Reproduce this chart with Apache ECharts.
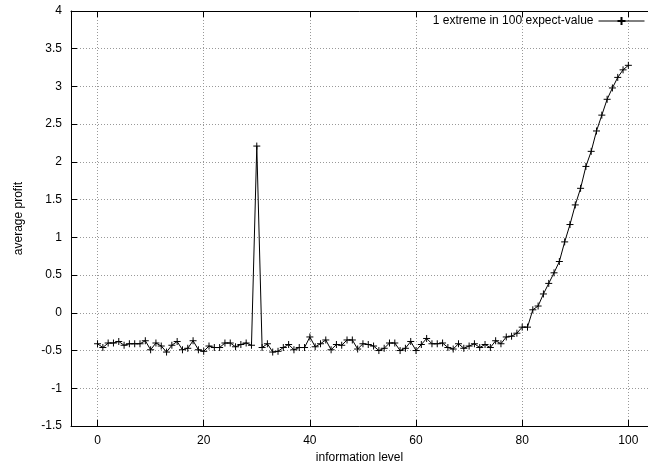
<!DOCTYPE html>
<html>
<head>
<meta charset="utf-8">
<script src="https://cdn.jsdelivr.net/npm/echarts@6/dist/echarts.min.js"></script>
<style>
  html, body { margin: 0; padding: 0; background: #fff; }
  #main { width: 648px; height: 471px; }
</style>
</head>
<body>
<div id="main"></div>
<script>
var chart = echarts.init(document.getElementById("main"))

// information level (x) and average profit (y)
var level = [0, 1, 2, 3, 4, 5, 6, 7, 8, 9, 10, 11, 12, 13, 14, 15, 16, 17, 18, 19,
  20, 21, 22, 23, 24, 25, 26, 27, 28, 29, 30, 31, 32, 33, 34, 35, 36, 37, 38, 39,
  40, 41, 42, 43, 44, 45, 46, 47, 48, 49, 50, 51, 52, 53, 54, 55, 56, 57, 58, 59,
  60, 61, 62, 63, 64, 65, 66, 67, 68, 69, 70, 71, 72, 73, 74, 75, 76, 77, 78, 79,
  80, 81, 82, 83, 84, 85, 86, 87, 88, 89, 90, 91, 92, 93, 94, 95, 96, 97, 98, 99, 100]
var profit = [-0.41, -0.46, -0.40, -0.40, -0.38, -0.43, -0.41, -0.41, -0.41, -0.37,
  -0.49, -0.40, -0.44, -0.52, -0.43, -0.38, -0.49, -0.47, -0.37, -0.49,
  -0.51, -0.44, -0.46, -0.46, -0.40, -0.40, -0.45, -0.42, -0.40, -0.43,
  2.21, -0.46, -0.41, -0.52, -0.51, -0.46, -0.42, -0.49, -0.46, -0.46,
  -0.32, -0.45, -0.41, -0.36, -0.49, -0.42, -0.43, -0.36, -0.36, -0.48,
  -0.41, -0.42, -0.44, -0.50, -0.47, -0.40, -0.40, -0.50, -0.47, -0.38,
  -0.50, -0.42, -0.34, -0.41, -0.41, -0.40, -0.46, -0.48, -0.41, -0.47,
  -0.44, -0.41, -0.46, -0.42, -0.46, -0.37, -0.41, -0.32, -0.31, -0.27,
  -0.19, -0.19, 0.04, 0.09, 0.25, 0.39, 0.53, 0.68, 0.94, 1.17,
  1.43, 1.65, 1.94, 2.14, 2.41, 2.62, 2.83, 2.98, 3.12, 3.22, 3.28]
var xTicks = [0, 20, 40, 60, 80, 100]
var seriesName = "1 extreme in 100 expect-value"

var points = []
for (var i = 0; i < level.length; i++) {
  points.push([level[i], profit[i]])
}

var font = "Liberation Sans, Arial, Helvetica, sans-serif"
var plus = "path://M0,5L10,5M5,0L5,10"

option = {
  animation: false,
  backgroundColor: "#fff",
  textStyle: { fontFamily: font, color: "#000" },
  grid: { left: 71, top: 11, bottom: 45, right: 0, containLabel: false },
  legend: {
    right: 3,
    top: 15,
    padding: 0,
    align: "right",
    itemWidth: 46,
    itemHeight: 10,
    itemGap: 0,
    lineStyle: { width: 1 },
    textStyle: { fontFamily: font, fontSize: 12, color: "#000", padding: [0, 0, 0, 0] },
    data: [seriesName]
  },
  xAxis: [
    {
      type: "value",
      min: -5,
      max: 103.7,
      name: "information level",
      nameLocation: "middle",
      nameGap: 26,
      nameTextStyle: { fontFamily: font, fontSize: 12, color: "#000" },
      axisLine: { show: true, onZero: false, lineStyle: { color: "#000", width: 1 } },
      axisTick: { show: true, inside: true, length: 6, customValues: xTicks, lineStyle: { color: "#000" } },
      axisLabel: { customValues: xTicks, margin: 9, fontFamily: font, fontSize: 12, color: "#000" },
      splitLine: { show: true, lineStyle: { color: "#999", type: [1, 2], width: 1 } }
    },
    {
      type: "value",
      position: "top",
      min: -5,
      max: 103.7,
      axisLine: { show: true, onZero: false, lineStyle: { color: "#000", width: 1 } },
      axisTick: { show: true, inside: true, length: 6, customValues: xTicks, lineStyle: { color: "#000" } },
      axisLabel: { show: false },
      splitLine: { show: false }
    }
  ],
  yAxis: {
    type: "value",
    min: -1.5,
    max: 4,
    interval: 0.5,
    name: "average profit",
    nameLocation: "middle",
    nameGap: 46,
    nameTextStyle: { fontFamily: font, fontSize: 12, color: "#000" },
    axisLine: { show: true, onZero: false, lineStyle: { color: "#000", width: 1 } },
    axisTick: { show: true, inside: true, length: 6, lineStyle: { color: "#000" } },
    axisLabel: { margin: 9, fontFamily: font, fontSize: 12, color: "#000" },
    splitLine: { show: true, lineStyle: { color: "#999", type: [1, 2], width: 1 } }
  },
  series: [
    {
      name: seriesName,
      type: "line",
      data: points,
      symbol: plus,
      symbolSize: 7,
      showAllSymbol: true,
      itemStyle: { color: "#000", borderColor: "#000", borderWidth: 1 },
      lineStyle: { color: "#000", width: 1 },
      emphasis: { disabled: true }
    }
  ]
}

chart.setOption(option)
</script>
</body>
</html>
